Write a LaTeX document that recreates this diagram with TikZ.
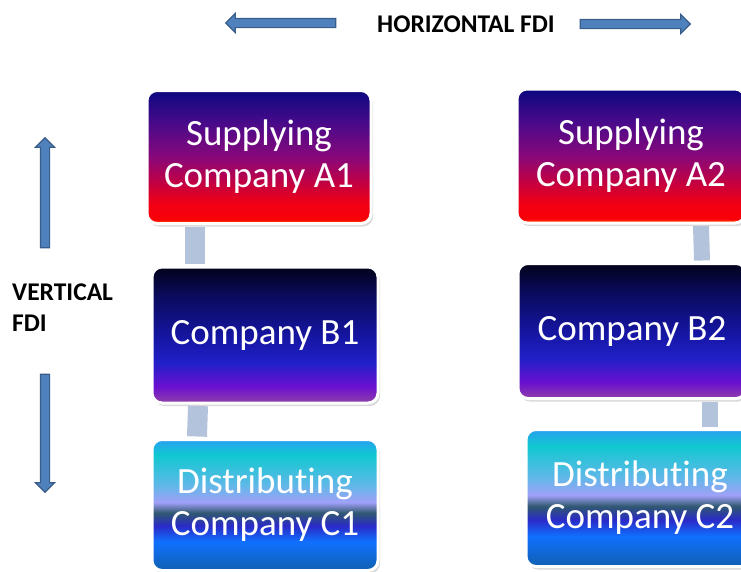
\documentclass[tikz,border=0pt]{standalone}
\usepackage{fontspec}
\setmainfont{Carlito}[RawFeature=-liga]
\usetikzlibrary{shapes.arrows,shadows}

\definecolor{arrowblue}{HTML}{4F81BD}
\definecolor{arrowedge}{HTML}{385D8A}
\definecolor{linkgrey}{HTML}{B4C3DC}

% fills of the three kinds of firm (bottom to top, 25bp..75bp)
\pgfdeclareverticalshading{supplyfill}{100bp}{%
  color(0bp)=(rgb,255:red,255;green,106;blue,0);
  color(25bp)=(rgb,255:red,255;green,106;blue,0);
  color(26.5bp)=(rgb,255:red,250;green,0;blue,8);
  color(32.5bp)=(rgb,255:red,240;green,0;blue,20);
  color(40bp)=(rgb,255:red,196;green,0;blue,64);
  color(50bp)=(rgb,255:red,136;green,8;blue,122);
  color(62.5bp)=(rgb,255:red,74;green,10;blue,138);
  color(75bp)=(rgb,255:red,12;green,8;blue,128);
  color(100bp)=(rgb,255:red,12;green,8;blue,128)}
\pgfdeclareverticalshading{firmfill}{100bp}{%
  color(0bp)=(rgb,255:red,144;green,64;blue,168);
  color(25bp)=(rgb,255:red,144;green,64;blue,168);
  color(31bp)=(rgb,255:red,106;green,16;blue,208);
  color(40bp)=(rgb,255:red,32;green,32;blue,200);
  color(50bp)=(rgb,255:red,21;green,21;blue,160);
  color(65bp)=(rgb,255:red,10;green,10;blue,90);
  color(75bp)=(rgb,255:red,2;green,2;blue,26);
  color(100bp)=(rgb,255:red,2;green,2;blue,26)}
\pgfdeclareverticalshading{distfill}{100bp}{%
  color(0bp)=(rgb,255:red,16;green,96;blue,176);
  color(25bp)=(rgb,255:red,16;green,96;blue,176);
  color(36bp)=(rgb,255:red,16;green,112;blue,255);
  color(42bp)=(rgb,255:red,42;green,42;blue,200);
  color(47bp)=(rgb,255:red,48;green,88;blue,112);
  color(51bp)=(rgb,255:red,160;green,160;blue,248);
  color(57.5bp)=(rgb,255:red,96;green,184;blue,232);
  color(69bp)=(rgb,255:red,16;green,200;blue,208);
  color(75bp)=(rgb,255:red,40;green,160;blue,240);
  color(100bp)=(rgb,255:red,40;green,160;blue,240)}

\begin{document}
\begin{tikzpicture}[x=1pt,y=-1pt]
  \tikzset{
    firm/.style={shade, rounded corners=10pt, draw=white, line width=3pt,
      minimum width=226pt, minimum height=133pt, align=center, text=white,
      font=\fontsize{37}{42}\selectfont,
      drop shadow={shadow xshift=2pt, shadow yshift=-3pt, opacity=0.3}},
    link/.style={draw=linkgrey, line width=20pt},
    fdiarrow/.style={single arrow, fill=arrowblue, draw=arrowedge, line width=1.2pt,
      minimum height=110pt, single arrow head extend=5pt, inner sep=4pt},
    fdilabel/.style={font=\bfseries\fontsize{25.5}{31}\selectfont, inner sep=0pt}
  }
  \useasboundingbox (0,0) rectangle (741,571);

  % first chain
  \node[firm, shading=supplyfill, minimum width=224pt] (sa1) at (259,157) {Supplying\\Company A1};
  \node[firm, shading=firmfill, minimum height=136pt] (cb1) at (265,335) {Company B1};
  \node[firm, shading=distfill, minimum height=131pt] (dc1) at (265,505) {Distributing\\Company C1};
  % second chain
  \node[firm, shading=supplyfill, minimum width=228pt, minimum height=134pt] (sa2) at (631,156) {Supplying\\Company A2};
  \node[firm, shading=firmfill, minimum width=228pt, minimum height=135pt] (cb2) at (632,331) {Company B2};
  \node[firm, shading=distfill, minimum width=228pt, minimum height=137pt] (dc2) at (640,498) {Distributing\\Company C2};

  \draw[link] ([xshift=-64pt,yshift=-1.5pt]sa1.south) -- ([xshift=-70pt,yshift=1.5pt]cb1.north);
  \draw[link] ([xshift=-67pt,yshift=-1.5pt]cb1.south) -- ([xshift=-68pt,yshift=1.5pt]dc1.north);
  \draw[link, line width=16pt] ([xshift=70pt,yshift=-1.5pt]sa2.south) -- ([xshift=70pt,yshift=1.5pt]cb2.north);
  \draw[link, line width=16pt] ([xshift=78pt,yshift=-1.5pt]cb2.south) -- ([xshift=70pt,yshift=1.5pt]dc2.north);

  % horizontal
  \node[fdilabel] (hfdi) at (466,24) {HORIZONTAL FDI};
  \node[fdiarrow, shape border rotate=180] (hleft) at (283,23) {};
  \node[fdiarrow] (hright) at (633,24) {};

  % vertical
  \node[fdilabel, anchor=west, align=left] (vfdi) at (12,308) {VERTICAL\\FDI};
  \node[fdiarrow, shape border rotate=90] (vup) at (45,195) {};
  \node[fdiarrow, shape border rotate=270, minimum height=118pt] (vdown) at (45,431) {};
\end{tikzpicture}
\end{document}
